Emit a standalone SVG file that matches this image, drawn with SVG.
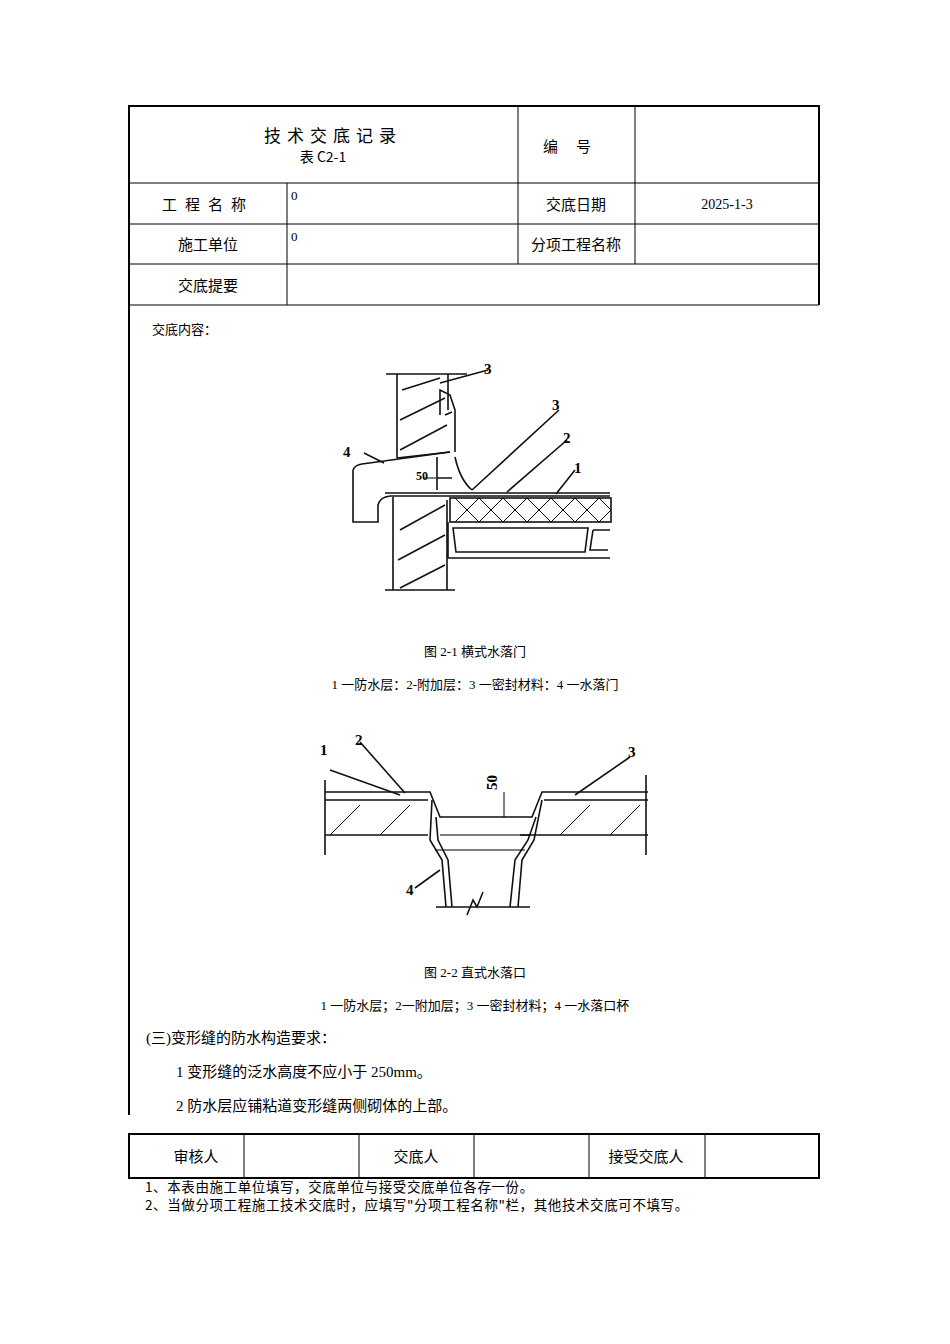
<svg xmlns="http://www.w3.org/2000/svg" width="950" height="1344" viewBox="0 0 950 1344">
<style>
.t{font-family:"Noto Sans CJK SC","Noto Sans",sans-serif;font-size:15px;fill:#000}
.s{font-family:"Liberation Serif","Noto Sans CJK SC",serif;font-size:13px;fill:#000}
.b{fill:none;stroke:#000;stroke-width:1}
.k{fill:none;stroke:#000;stroke-width:2}
.d{fill:none;stroke:#111;stroke-width:1.6}
.n{font-family:"Liberation Serif",serif;font-size:15px;font-weight:bold;fill:#000}
</style>
<rect width="950" height="1344" fill="#fff"/>
<g id="table">
<path class="k" d="M129,1115 V106 H819 V305"/>
<path class="b" d="M129,183 H819 M129,224 H819 M129,264 H819 M129,305 H819 M287,183 V305 M518,106 V264 M635,106 V264"/>
<rect class="k" x="129" y="1134" width="690" height="44"/>
<path class="b" d="M244,1134 V1178 M359,1134 V1178 M474,1134 V1178 M589,1134 V1178 M705,1134 V1178"/>
</g>
<g id="texts">
<text class="t" x="333" y="142" text-anchor="middle" style="font-size:17px;letter-spacing:6px">技术交底记录</text>
<text class="t" x="323" y="162" text-anchor="middle" style="font-size:14px">表 C2-1</text>
<text class="t" x="576" y="152" text-anchor="middle" style="letter-spacing:18px">编号</text>
<text class="t" x="208" y="210" text-anchor="middle" style="letter-spacing:8px">工程名称</text>
<text class="s" x="291" y="200">0</text>
<text class="t" x="576" y="210" text-anchor="middle">交底日期</text>
<text class="s" x="727" y="209" text-anchor="middle" style="font-size:14px">2025-1-3</text>
<text class="t" x="208" y="250" text-anchor="middle">施工单位</text>
<text class="s" x="291" y="241">0</text>
<text class="t" x="576" y="250" text-anchor="middle">分项工程名称</text>
<text class="t" x="208" y="291" text-anchor="middle">交底提要</text>
<text class="t" x="152" y="334" style="font-size:13px">交底内容：</text>
<text class="s" x="475" y="656" text-anchor="middle">图 2-1 横式水落门</text>
<text class="s" x="475" y="689" text-anchor="middle">1 一防水层：2-附加层：3 一密封材料：4 一水落门</text>
<text class="s" x="475" y="977" text-anchor="middle">图 2-2 直式水落口</text>
<text class="s" x="475" y="1010" text-anchor="middle">1 一防水层；2一附加层；3 一密封材料；4 一水落口杯</text>
<text class="s" x="146" y="1043" style="font-size:15px">(三)变形缝的防水构造要求：</text>
<text class="s" x="176" y="1077" style="font-size:15px">1 变形缝的泛水高度不应小于 250mm。</text>
<text class="s" x="176" y="1111" style="font-size:15px">2 防水层应铺粘道变形缝两侧砌体的上部。</text>
<text class="t" x="196" y="1162" text-anchor="middle">审核人</text>
<text class="t" x="416" y="1162" text-anchor="middle">交底人</text>
<text class="t" x="646" y="1162" text-anchor="middle">接受交底人</text>
<text class="t" x="145" y="1192" style="font-size:13.5px;letter-spacing:0.6px">1、本表由施工单位填写，交底单位与接受交底单位各存一份。</text>
<text class="t" x="145" y="1210" style="font-size:13.5px;letter-spacing:0.6px">2、当做分项工程施工技术交底时，应填写"分项工程名称"栏，其他技术交底可不填写。</text>
</g>
<g id="fig1">
<path class="d" d="M386,374 H467 M397,374 V458 M448,374 V410 M397,458 L450,452"/>
<path class="d" d="M402,390 L440,378 M400,420 L445,398 M400,450 L447,425"/>
<path class="d" d="M440,415 V390 L450,395 L455,410 V452 M445,415 L452,412"/>
<path class="d" d="M353,470 Q355,465 362,464 L450,452 M353,470 V522 H378 V505 Q380,497 390,496 H610 M385,493 H610"/>
<path class="d" d="M437,457 V490 M455,457 Q460,480 472,490 M437,478 H452"/>
<path class="d" d="M393,497 V590 M447,500 V590 M385,590 H455"/>
<path class="d" d="M400,530 L445,505 M398,560 L445,535 M400,588 L445,565"/>
<rect class="d" x="450" y="498" width="161" height="24"/>
<path class="b" d="M455,498 l24,24 M479,498 l24,24 M503,498 l24,24 M527,498 l24,24 M551,498 l24,24 M575,498 l24,24 M599,498 l12,12 M479,498 l-24,24 M503,498 l-24,24 M527,498 l-24,24 M551,498 l-24,24 M575,498 l-24,24 M599,498 l-24,24 M611,510 l-12,12"/>
<path class="d" d="M448,522 V558 H610 M453,528 H588 L585,552 H456 Z M593,530 H610 M593,530 L590,550 H608"/>
<path class="d" d="M440,383 L488,370 M472,490 L559,410 M507,492 L567,440 M556,494 L575,470 M384,463 L364,453"/>
<path class="b" d="M423,478 H436"/>
<text class="n" x="484" y="374">3</text><text class="n" x="552" y="410">3</text>
<text class="n" x="563" y="443">2</text><text class="n" x="574" y="473">1</text>
<text class="n" x="343" y="457">4</text><text class="n" x="416" y="480" style="font-size:12px">50</text>
</g>
<g id="fig2">
<path class="d" d="M325,780 V855 M646,775 V855 M325,792 H430 L440,817 H532 L542,792 H648 M325,800 H428 M544,800 H648"/>
<path class="d" d="M325,835 H428 M520,835 H648 M436,817 L438,840 L448,860 L452,907 M432,800 L430,840 L442,860 L446,907 M536,817 L528,840 L515,860 L510,907 M542,800 L534,840 L522,860 L518,907"/>
<path class="b" d="M435,850 H525 M504,792 V817 M440,835 H530"/>
<path class="b" d="M330,835 L360,805 M380,835 L410,805 M560,835 L590,805 M610,835 L640,805"/>
<path class="d" d="M436,907 H530 M467,915 L473,900 L477,907 L483,892"/>
<path class="d" d="M330,770 L400,795 M360,742 L405,793 M630,757 L575,795 M440,870 L415,888"/>
<text class="n" x="320" y="755">1</text><text class="n" x="355" y="745">2</text>
<text class="n" x="628" y="757">3</text><text class="n" x="406" y="895">4</text>
<text class="n" x="0" y="0" transform="translate(497,790) rotate(-90)">50</text>
</g>
</svg>
